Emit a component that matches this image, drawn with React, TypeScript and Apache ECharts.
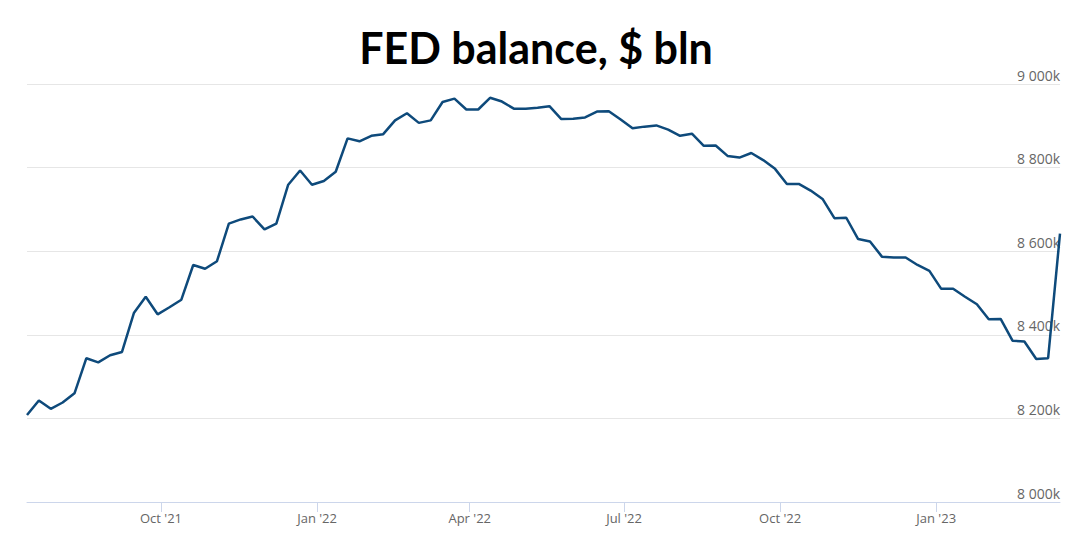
import React, { useEffect, useRef } from "react";
import * as echarts from "echarts";

// Weekly observations (Wednesdays), starting 14 Jul 2021
const startDate = "2021-07-14";
const values: number[] = [
  8208, 8243, 8223, 8238, 8260, 8344, 8334, 8351, 8359, 8452,
  8491, 8449, 8466, 8484, 8567, 8558, 8576, 8666, 8676, 8683,
  8652, 8666, 8759, 8793, 8759, 8768, 8790, 8870, 8863, 8876,
  8880, 8913, 8930, 8907, 8913, 8957, 8965, 8939, 8939, 8967,
  8958, 8941, 8941, 8943, 8947, 8916, 8917, 8920, 8934, 8935,
  8915, 8894, 8898, 8901, 8891, 8876, 8881, 8852, 8853, 8828,
  8824, 8835, 8818, 8797, 8761, 8761, 8745, 8725, 8679, 8680,
  8629, 8623, 8587, 8585, 8585, 8567, 8553, 8510, 8510, 8491,
  8473, 8437, 8438, 8386, 8384, 8342, 8344, 8642,
];
const tickDates: string[] = [
  "2021-10-01", "2022-01-01", "2022-04-01", "2022-07-01", "2022-10-01", "2023-01-01",
];
const monthNames = ["Jan", "Feb", "Mar", "Apr", "May", "Jun", "Jul", "Aug", "Sep", "Oct", "Nov", "Dec"];
const yTicks = [8000, 8200, 8400, 8600, 8800, 9000];

const toTs = (s: string) => {
  const [y, m, d] = s.split("-").map(Number);
  return Date.UTC(y, m - 1, d);
};
const DAY = 86400000;

export default function App() {
  const ref = useRef<HTMLDivElement>(null);
  useEffect(() => {
    if (!ref.current) return;
    const chart = echarts.init(ref.current, undefined, { renderer: "svg" });
    const t0 = toTs(startDate);
    const data = values.map((v, i) => [t0 + i * 7 * DAY, v]);
    const ticks = tickDates.map(toTs);
    chart.setOption({
      animation: false,
      backgroundColor: "#ffffff",
      title: {
        text: "FED balance, $ bln",
        left: "center",
        top: 21,
        textStyle: {
          fontFamily: "Lato",
          fontWeight: "bold",
          fontSize: 43,
          color: "#000000",
        },
      },
      grid: { left: 27, right: 12, top: 84, bottom: 35 },
      xAxis: {
        type: "value",
        min: data[0][0],
        max: data[data.length - 1][0],
        axisLine: { show: true, lineStyle: { color: "#ccd6eb", width: 1 } },
        axisTick: {
          show: true,
          customValues: ticks,
          length: 10,
          lineStyle: { color: "#ccd6eb", width: 1 },
        },
        axisLabel: {
          customValues: ticks,
          color: "#666666",
          fontFamily: "Open Sans",
          fontSize: 13,
          margin: 9,
          formatter: (v: number) => {
            const d = new Date(v);
            return monthNames[d.getUTCMonth()] + " '" + String(d.getUTCFullYear()).slice(2);
          },
        },
        splitLine: { show: false },
      },
      yAxis: {
        type: "value",
        position: "right",
        min: yTicks[0],
        max: yTicks[yTicks.length - 1],
        interval: 200,
        axisLine: { show: false },
        axisTick: { show: false },
        splitLine: { show: true, lineStyle: { color: "#e6e6e6", width: 1 } },
        axisLabel: {
          inside: true,
          margin: 0,
          color: "#666666",
          fontFamily: "Open Sans",
          fontSize: 14,
          verticalAlign: "bottom",
          padding: [0, 0, 2, 0],
          formatter: (v: number) => {
            const th = Math.floor(v / 1000);
            const rest = String(v % 1000).padStart(3, "0");
            return th + " " + rest + "k";
          },
        },
      },
      series: [
        {
          type: "line",
          data,
          symbol: "none",
          lineStyle: { color: "#0e4a7b", width: 2.5 },
          z: 3,
        },
      ],
    });
    return () => chart.dispose();
  }, []);
  return (
    <div
      ref={ref}
      style={{ position: "fixed", left: 0, top: 0, width: 1072, height: 537 }}
    />
  );
}
